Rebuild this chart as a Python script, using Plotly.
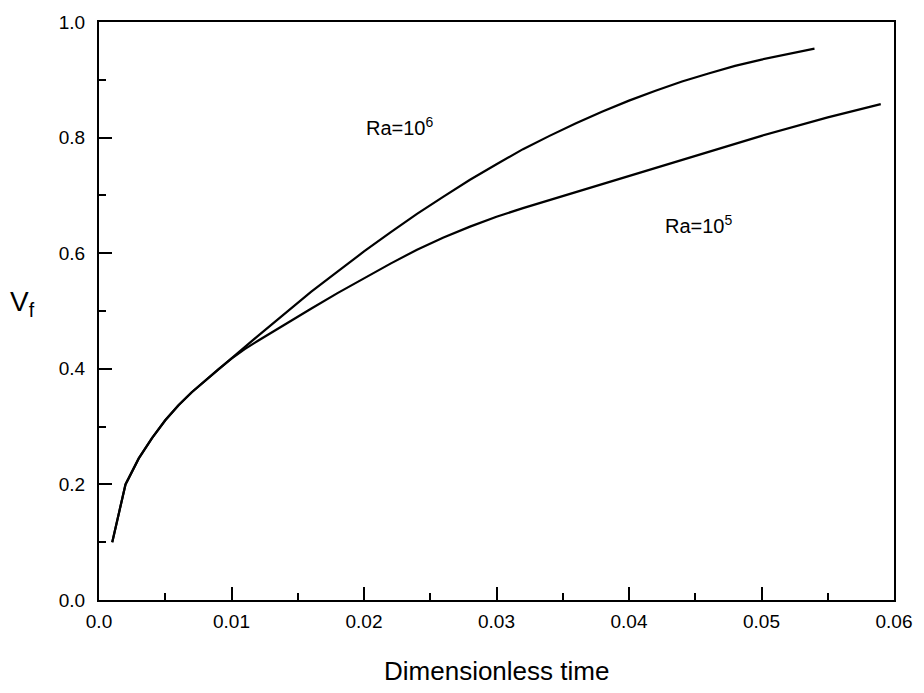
import plotly.graph_objects as go

# Ra = 10^6 curve (dimensionless time, V_f)
t_ra6 = [0.001, 0.002, 0.003, 0.004, 0.005, 0.006, 0.007, 0.008, 0.009, 0.010,
         0.012, 0.014, 0.016, 0.018, 0.020, 0.022, 0.024, 0.026, 0.028, 0.030,
         0.032, 0.034, 0.036, 0.038, 0.040, 0.042, 0.044, 0.046, 0.048, 0.050,
         0.052, 0.054]
v_ra6 = [0.100, 0.200, 0.245, 0.280, 0.311, 0.337, 0.3595, 0.3795, 0.399, 0.418,
         0.457, 0.495, 0.533, 0.568, 0.603, 0.636, 0.668, 0.698, 0.727, 0.754,
         0.780, 0.803, 0.825, 0.845, 0.864, 0.881, 0.897, 0.911, 0.924, 0.935,
         0.945, 0.954]

# Ra = 10^5 curve
t_ra5 = [0.001, 0.002, 0.003, 0.004, 0.005, 0.006, 0.007, 0.008, 0.009, 0.010,
         0.011, 0.012, 0.014, 0.016, 0.018, 0.020, 0.022, 0.024, 0.026, 0.028,
         0.030, 0.032, 0.034, 0.036, 0.040, 0.045, 0.050, 0.055, 0.059]
v_ra5 = [0.100, 0.200, 0.245, 0.280, 0.311, 0.337, 0.3595, 0.3795, 0.399, 0.4175,
         0.434, 0.4485, 0.4765, 0.504, 0.531, 0.557, 0.582, 0.606, 0.627, 0.646,
         0.663, 0.678, 0.692, 0.706, 0.734, 0.769, 0.803, 0.835, 0.858]

x_tickvals = [0.0, 0.01, 0.02, 0.03, 0.04, 0.05, 0.06]
x_ticktext = ["0.0", "0.01", "0.02", "0.03", "0.04", "0.05", "0.06"]
y_tickvals = [0.0, 0.2, 0.4, 0.6, 0.8, 1.0]
y_ticktext = ["0.0", "0.2", "0.4", "0.6", "0.8", "1.0"]

labels = ["Ra=10<sup>6</sup>", "Ra=10<sup>5</sup>"]
label_pos = [(0.0200, 0.820), (0.0426, 0.649)]

FONT = "Liberation Sans, Arial, Helvetica, sans-serif"

fig = go.Figure()
fig.add_trace(go.Scatter(x=t_ra6, y=v_ra6, mode="lines",
                         line=dict(color="black", width=2.2), showlegend=False))
fig.add_trace(go.Scatter(x=t_ra5, y=v_ra5, mode="lines",
                         line=dict(color="black", width=2.2), showlegend=False))

axis_common = dict(
    showgrid=False, zeroline=False, showline=True, linecolor="black",
    linewidth=2, mirror=True, ticks="inside", ticklen=13, tickwidth=1.5,
    tickcolor="black", tickfont=dict(family=FONT, size=19, color="black"),
)

fig.update_xaxes(range=[0, 0.06], tickvals=x_tickvals, ticktext=x_ticktext,
                 minor=dict(ticks="inside", ticklen=7, tickwidth=1.5,
                            tickcolor="black", dtick=0.005, tick0=0),
                 ticklabelstandoff=3,
                 **axis_common)
fig.update_yaxes(range=[0, 1.0], tickvals=y_tickvals, ticktext=y_ticktext,
                 minor=dict(ticks="inside", ticklen=7, tickwidth=1.5,
                            tickcolor="black", dtick=0.1, tick0=0),
                 ticklabelstandoff=8,
                 **axis_common)

for txt, (lx, ly) in zip(labels, label_pos):
    fig.add_annotation(x=lx, y=ly, xref="x", yref="y", text=txt,
                       showarrow=False, xanchor="left", yanchor="middle",
                       font=dict(family=FONT, size=20, color="black"))

fig.add_annotation(x=0.5, y=-0.123, xref="paper", yref="paper",
                   text="Dimensionless time", showarrow=False,
                   xanchor="center", yanchor="middle",
                   font=dict(family=FONT, size=26, color="black"))
fig.add_annotation(x=-0.096, y=0.513, xref="paper", yref="paper",
                   text="V<sub>f</sub>", showarrow=False,
                   xanchor="center", yanchor="middle",
                   font=dict(family=FONT, size=28, color="black"))

fig.update_layout(width=924, height=693,
                  margin=dict(l=99, r=25, t=15, b=93),
                  paper_bgcolor="white", plot_bgcolor="white")

fig.write_html("out.html")
